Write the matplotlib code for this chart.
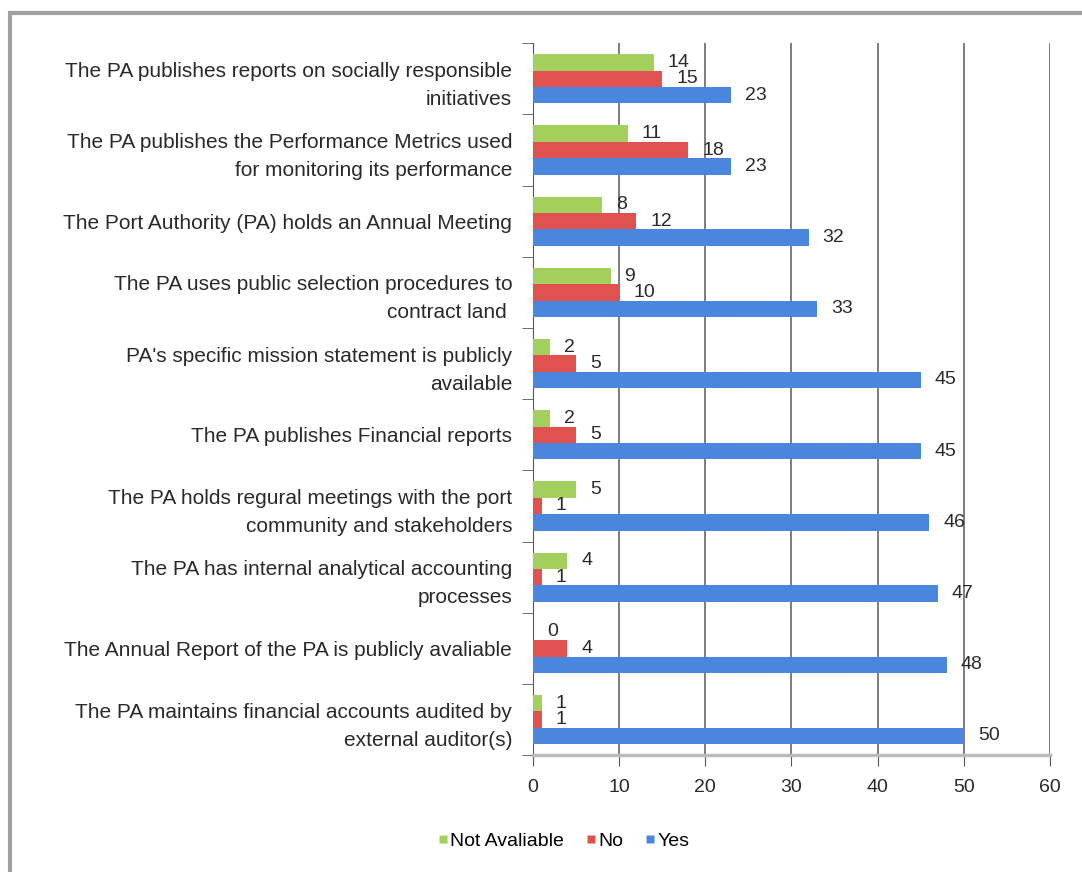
import numpy as np
import matplotlib.pyplot as plt
from matplotlib.lines import Line2D
from matplotlib.patches import Rectangle

plt.rcParams['font.family'] = ['Liberation Sans', 'DejaVu Sans']

# categories, top to bottom
categories = [
    "The PA publishes reports on socially responsible\ninitiatives",
    "The PA publishes the Performance Metrics used\nfor monitoring its performance",
    "The Port Authority (PA) holds an Annual Meeting",
    "The PA uses public selection procedures to\ncontract land ",
    "PA's specific mission statement is publicly\navailable",
    "The PA publishes Financial reports",
    "The PA holds regural meetings with the port\ncommunity and stakeholders",
    "The PA has internal analytical accounting\nprocesses",
    "The Annual Report of the PA is publicly avaliable",
    "The PA maintains financial accounts audited by\nexternal auditor(s)",
]
not_available = [14, 11, 8, 9, 2, 2, 5, 4, 0, 1]
no = [15, 18, 12, 10, 5, 5, 1, 1, 4, 1]
yes = [23, 23, 32, 33, 45, 45, 46, 47, 48, 50]

series = [("Not Avaliable", not_available, "#a3d05c"),
          ("No", no, "#e0524f"),
          ("Yes", yes, "#4a86de")]

fig = plt.figure(figsize=(10.82, 8.72), dpi=100)
ax = fig.add_axes([0.4926, 0.134, 0.4778, 0.8164])

n = len(categories)
y = np.arange(n)[::-1].astype(float)  # first category on top
h = 0.23

for i, (name, vals, col) in enumerate(series):
    pos = y + h * (1 - i)
    ax.barh(pos, vals, height=h, color=col, edgecolor='none', zorder=3)
    for p, v in zip(pos, vals):
        ax.annotate(str(v), (v, p), xytext=(14, 0), textcoords='offset pixels',
                    ha='left', va='center', fontsize=14, color='#2a2a2a', zorder=4)

ax.set_xlim(0, 60)
ax.set_ylim(-0.5, n - 0.5)
ax.set_xticks(range(0, 61, 10))
ax.set_yticks(y)
ax.set_yticklabels(categories, fontsize=15, color='#2a2a2a', linespacing=1.6)
ax.set_yticks(np.arange(-0.5, n, 1.0), minor=True)
ax.tick_params(axis='y', which='major', length=0, pad=15)
ax.tick_params(axis='y', which='minor', length=8, color='#555555')
ax.tick_params(axis='x', length=8, color='#555555', pad=9, labelsize=14,
               labelcolor='#2a2a2a')
ax.xaxis.grid(True, color='#666666', linewidth=1.2, zorder=0)

for s in ['top', 'right']:
    ax.spines[s].set_visible(False)
ax.spines['left'].set_color('#555555')
ax.spines['bottom'].set_color('#bbbbbb')
ax.spines['bottom'].set_linewidth(2.5)

handles = [Line2D([], [], marker='s', linestyle='none', markersize=6,
                  markerfacecolor=c, markeredgecolor='none', label=nm)
           for nm, _, c in series]
fig.legend(handles=handles, loc='center', bbox_to_anchor=(0.52, 0.035), ncol=3,
           frameon=False, fontsize=14, handletextpad=0.05, columnspacing=1.0,
           handlelength=0.7)

# outer frame (only top and left visible in the original)
fig.add_artist(Rectangle((10 / 1082, -0.1), 1.2, 0.1 + 1 - 13 / 872,
                         transform=fig.transFigure, fill=False,
                         edgecolor='#a0a0a0', linewidth=3))

fig.savefig('out.png', dpi=100)
